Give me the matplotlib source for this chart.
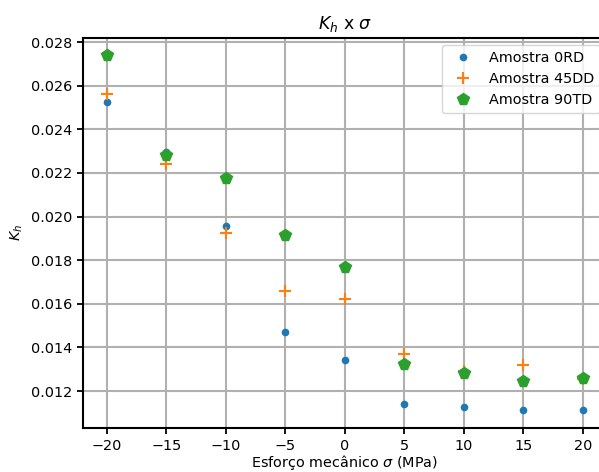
import matplotlib.pyplot as plt

# Esforço mecânico (MPa)
sigma = [-20, -15, -10, -5, 0, 5, 10, 15, 20]

# Kh por amostra
kh_0rd = [0.02525, 0.02298, 0.01959, 0.01470, 0.01344, 0.01141, 0.01128, 0.01112, 0.01112]
kh_45dd = [0.02560, 0.02239, 0.01927, 0.01659, 0.01621, 0.01370, 0.01290, 0.01320, 0.01255]
kh_90td = [0.02742, 0.02283, 0.02179, 0.01915, 0.01771, 0.01323, 0.01283, 0.01248, 0.01259]

plt.rcParams['font.size'] = 10.4

fig = plt.figure(figsize=(5.99, 4.72), dpi=100)
ax = fig.add_axes([0.1386, 0.0939, 0.8744, 0.8261])

ax.plot(sigma, kh_0rd, 'o', color='tab:blue', markersize=4.5, label='Amostra 0RD')
ax.plot(sigma, kh_45dd, '+', color='tab:orange', markersize=8, markeredgewidth=1.5, label='Amostra 45DD')
ax.plot(sigma, kh_90td, 'p', color='tab:green', markersize=8.5, label='Amostra 90TD')

ax.set_xlim(-22, 22)
ax.set_ylim(0.01032, 0.0282)
ax.set_xticks([-20, -15, -10, -5, 0, 5, 10, 15, 20])
ax.set_yticks([0.012, 0.014, 0.016, 0.018, 0.020, 0.022, 0.024, 0.026, 0.028])
ax.grid(True, color='#b0b0b0', linewidth=1.5)
ax.set_axisbelow(True)
for s in ax.spines.values():
    s.set_linewidth(1.5)
ax.tick_params(width=1.3, length=4.5)

ax.set_title(r'$K_h$ x $\sigma$', fontsize=12.5)
ax.set_xlabel(r'Esforço mecânico $\sigma$ (MPa)', labelpad=0)
ax.set_ylabel(r'$K_h$')
ax.legend(loc='upper right', numpoints=1)

fig.savefig('out.png', dpi=100)
